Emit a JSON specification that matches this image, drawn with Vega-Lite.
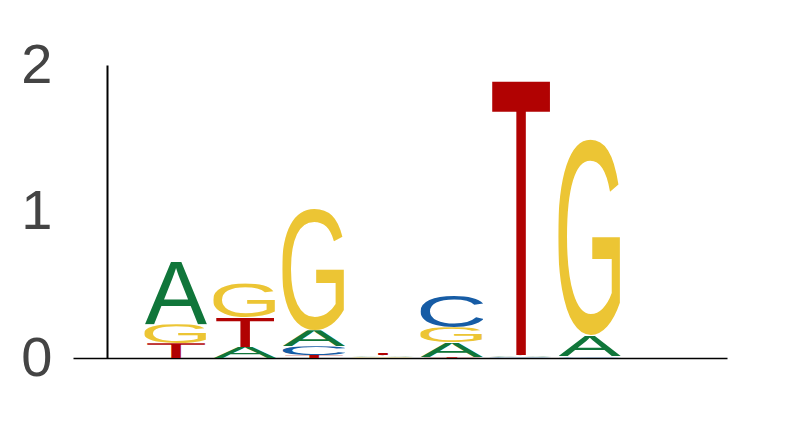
{
  "$schema": "https://vega.github.io/schema/vega-lite/v6.json",
  "description": "Sequence logo, 7 positions, letter heights in bits.",
  "width": 654,
  "height": 293,
  "autosize": "none",
  "padding": {"left": 73, "top": 65, "right": 66, "bottom": 71},
  "data": {
    "values": [
      {"pos": 1, "base": "T", "bits": 0.10},
      {"pos": 1, "base": "G", "bits": 0.13},
      {"pos": 1, "base": "A", "bits": 0.425},
      {"pos": 2, "base": "A", "bits": 0.075},
      {"pos": 2, "base": "T", "bits": 0.20},
      {"pos": 2, "base": "G", "bits": 0.235},
      {"pos": 3, "base": "T", "bits": 0.02},
      {"pos": 3, "base": "C", "bits": 0.06},
      {"pos": 3, "base": "A", "bits": 0.11},
      {"pos": 3, "base": "G", "bits": 0.83},
      {"pos": 4, "base": "G", "bits": 0.004},
      {"pos": 4, "base": "C", "bits": 0.006},
      {"pos": 4, "base": "A", "bits": 0.01},
      {"pos": 4, "base": "T", "bits": 0.015},
      {"pos": 5, "base": "T", "bits": 0.005},
      {"pos": 5, "base": "A", "bits": 0.10},
      {"pos": 5, "base": "G", "bits": 0.105},
      {"pos": 5, "base": "C", "bits": 0.22},
      {"pos": 6, "base": "G", "bits": 0.003},
      {"pos": 6, "base": "C", "bits": 0.005},
      {"pos": 6, "base": "A", "bits": 0.01},
      {"pos": 6, "base": "T", "bits": 1.87},
      {"pos": 7, "base": "T", "bits": 0.003},
      {"pos": 7, "base": "C", "bits": 0.01},
      {"pos": 7, "base": "A", "bits": 0.14},
      {"pos": 7, "base": "G", "bits": 1.34}
    ]
  },
  "transform": [
    {
      "stack": "bits",
      "groupby": ["pos"],
      "sort": [{"field": "bits", "order": "ascending"}],
      "as": ["y0", "y1"]
    }
  ],
  "mark": {"type": "image", "aspect": false},
  "encoding": {
    "x": {
      "field": "pos",
      "type": "ordinal",
      "scale": {
        "type": "band",
        "domain": [1, 2, 3, 4, 5, 6, 7, 8],
        "paddingInner": 0.09,
        "paddingOuter": 0.785,
        "align": 0.66
      },
      "axis": {
        "title": null,
        "labels": false,
        "ticks": false,
        "domainColor": "#000000",
        "domainWidth": 1.6
      }
    },
    "y": {
      "field": "y1",
      "type": "quantitative",
      "scale": {"domain": [0, 2], "nice": false},
      "axis": {
        "title": null,
        "values": [0, 1, 2],
        "labelExpr": "format(datum.value, '.0f')",
        "grid": false,
        "ticks": false,
        "tickSize": 0,
        "offset": -34,
        "labelPadding": 55,
        "labelOverlap": false,
        "labelFontSize": 56,
        "labelFont": "Liberation Sans",
        "labelColor": "#444444",
        "domainColor": "#000000",
        "domainWidth": 2
      }
    },
    "y2": {"field": "y0"},
    "url": {
      "condition": [
        {
          "test": "datum.base === 'A'",
          "value": "data:image/svg+xml;utf8,<svg xmlns='http://www.w3.org/2000/svg' width='100' height='100' viewBox='-0.2 -68.8 67.1 68.8' preserveAspectRatio='none'><text font-family='Liberation Sans,Arial,sans-serif' font-size='100' fill='rgb(16,118,58)'>A</text></svg>"
        },
        {
          "test": "datum.base === 'C'",
          "value": "data:image/svg+xml;utf8,<svg xmlns='http://www.w3.org/2000/svg' width='100' height='100' viewBox='5 -70 62.9 71.2' preserveAspectRatio='none'><text font-family='Liberation Sans,Arial,sans-serif' font-size='100' fill='rgb(22,92,165)'>C</text></svg>"
        },
        {
          "test": "datum.base === 'G'",
          "value": "data:image/svg+xml;utf8,<svg xmlns='http://www.w3.org/2000/svg' width='100' height='100' viewBox='5.4 -70 66.3 71.2' preserveAspectRatio='none'><text font-family='Liberation Sans,Arial,sans-serif' font-size='100' fill='rgb(236,197,52)'>G</text></svg>"
        }
      ],
      "value": "data:image/svg+xml;utf8,<svg xmlns='http://www.w3.org/2000/svg' width='100' height='100' viewBox='-0.5 -68.8 61.5 68.8' preserveAspectRatio='none'><text font-family='Liberation Sans,Arial,sans-serif' font-size='100' fill='rgb(177,2,2)'>T</text></svg>"
    }
  },
  "config": {"view": {"stroke": null}}
}
